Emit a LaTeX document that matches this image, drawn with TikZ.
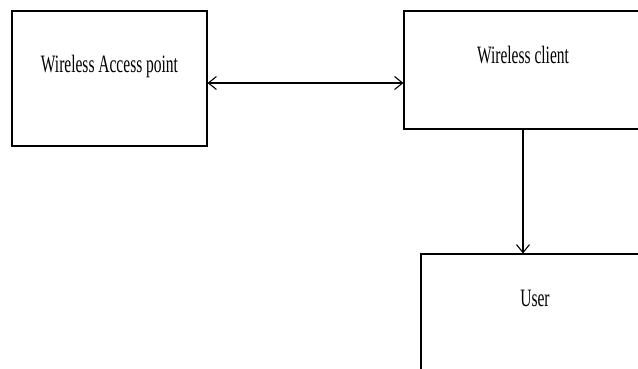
\documentclass[tikz,border=0pt]{standalone}
\usepackage{fontspec}
\setmainfont{Liberation Serif}
\usepackage{tikz}
\usetikzlibrary{arrows.meta,positioning,calc}
\newcommand{\narrow}[1]{\scalebox{0.62}[1]{#1}}
\tikzstyle{wbox}   = [rectangle, draw, line width=1.1pt, inner sep=0pt,
                      font=\fontsize{25}{30}\selectfont]
\tikzstyle{warrow} = [line width=1.1pt, {Straight Barb[length=8pt,width=13pt]}-{Straight Barb[length=8pt,width=13pt]}]
\tikzstyle{darrow} = [line width=1.1pt, -{Straight Barb[length=8pt,width=13pt]}]

\begin{document}
\begin{tikzpicture}[x=1pt, y=-1pt]
\useasboundingbox (0,0) rectangle (638,368);
\clip (0,0) rectangle (638,368);
% Boxes
\node[wbox, minimum width=195pt, text height=61pt, text depth=74pt] (wap)
  at (109.5,78.5) {\narrow{Wireless Access point}};
\node[wbox, minimum width=238pt, text height=52pt, text depth=66pt] (wc)
  at (523,70) {\narrow{Wireless client}};
\node[wbox, minimum width=228pt, text height=52.7pt, text depth=130.3pt] (user)
  at (535,345.5) {\narrow{User}};
% Arrows
\coordinate (link) at ([yshift=-4.5pt]wap.east);
\draw[warrow] (link) -- (link -| wc.west);
\draw[darrow] (wc.south) -- (wc.south |- user.north);
\end{tikzpicture}
\end{document}
